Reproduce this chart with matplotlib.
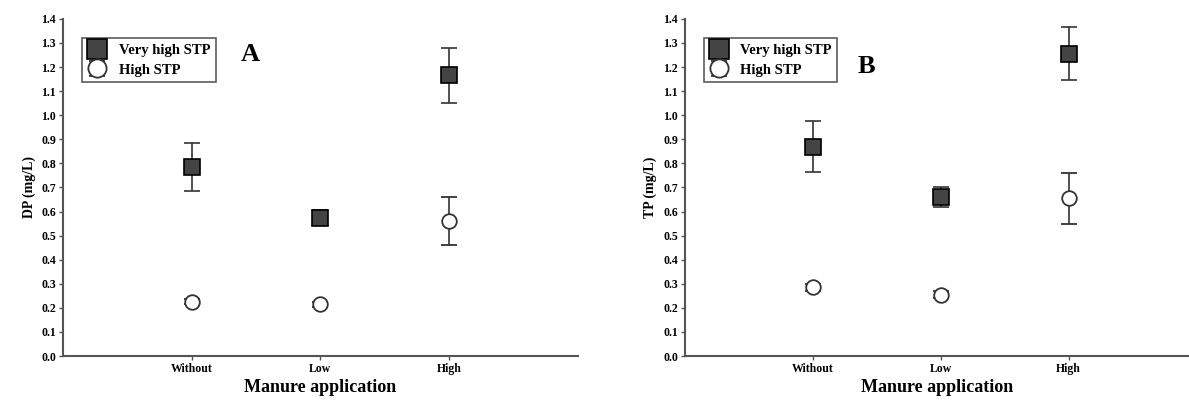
import matplotlib.pyplot as plt
import numpy as np

plt.rcParams['font.family'] = ['Liberation Serif', 'DejaVu Serif']
plt.rcParams['font.weight'] = 'bold'

categories = ["Without", "Low", "High"]

# Panel A: DP (mg/L)
dp_very_high = [0.785, 0.575, 1.165]
dp_very_high_err = [0.10, 0.03, 0.115]
dp_high = [0.225, 0.215, 0.56]
dp_high_err = [0.01, 0.01, 0.10]

# Panel B: TP (mg/L)
tp_very_high = [0.87, 0.66, 1.255]
tp_very_high_err = [0.107, 0.04, 0.11]
tp_high = [0.285, 0.255, 0.655]
tp_high_err = [0.015, 0.015, 0.105]

fig = plt.figure(figsize=(11.89, 4.01), dpi=100)
ax_a = fig.add_axes([0.053, 0.112, 0.433, 0.841])
ax_b = fig.add_axes([0.576, 0.112, 0.424, 0.841])

panels = [
    (ax_a, dp_very_high, dp_very_high_err, dp_high, dp_high_err, "DP (mg/L)", "A", 4.0, (0.363, 0.893)),
    (ax_b, tp_very_high, tp_very_high_err, tp_high, tp_high_err, "TP (mg/L)", "B", 3.94, (0.36, 0.86)),
]

x = np.arange(1, len(categories) + 1)
for ax, vh, vh_err, h, h_err, ylabel, letter, xmax, letter_pos in panels:
    ax.errorbar(x, vh, yerr=vh_err, fmt="s", color="#444444", ecolor="#333333",
                markeredgecolor="black", markersize=11.5, markeredgewidth=1.2,
                elinewidth=1.2, capsize=6, capthick=1.2, label="Very high STP", zorder=3)
    ax.errorbar(x, h, yerr=h_err, fmt="o", color="white", ecolor="#333333",
                markeredgecolor="#333333", markersize=10.5, markeredgewidth=1.3,
                elinewidth=1.2, capsize=6, capthick=1.2, label="High STP", zorder=4)

    ax.set_xlim(0, xmax)
    ax.set_ylim(0, 1.4)
    ax.set_yticks(np.arange(0, 1.41, 0.1))
    ax.set_yticklabels([f"{v:.1f}" for v in np.arange(0, 1.41, 0.1)])
    ax.set_xticks(x)
    ax.set_xticklabels(categories)
    ax.tick_params(axis="both", labelsize=8.5, length=3, width=1, color="#555555", pad=2)
    for side in ["top", "right"]:
        ax.spines[side].set_visible(False)
    for side in ["left", "bottom"]:
        ax.spines[side].set_color("#555555")
        ax.spines[side].set_linewidth(1.5)

    ax.set_ylabel(ylabel, fontsize=10, fontweight="bold", labelpad=4)
    ax.set_xlabel("Manure application", fontsize=13, fontweight="bold", labelpad=3)

    leg = ax.legend(loc="upper left", bbox_to_anchor=(0.037, 0.944), fontsize=10.5,
                    frameon=True, fancybox=False, edgecolor="#333333",
                    handletextpad=0.8, borderpad=0.4, labelspacing=0.45,
                    handlelength=1.3, borderaxespad=0, markerscale=1.25)
    leg.get_frame().set_linewidth(1.2)
    # legend shows only the markers, no error bars
    for handle in leg.legend_handles:
        if hasattr(handle, "lines"):
            for cap in handle.lines[1]:
                cap.set_visible(False)
            for seg in handle.lines[2]:
                seg.set_visible(False)

    ax.text(letter_pos[0], letter_pos[1], letter, transform=ax.transAxes,
            fontsize=19, fontweight="bold", ha="center", va="center")

fig.savefig("out.png")
plt.close(fig)
